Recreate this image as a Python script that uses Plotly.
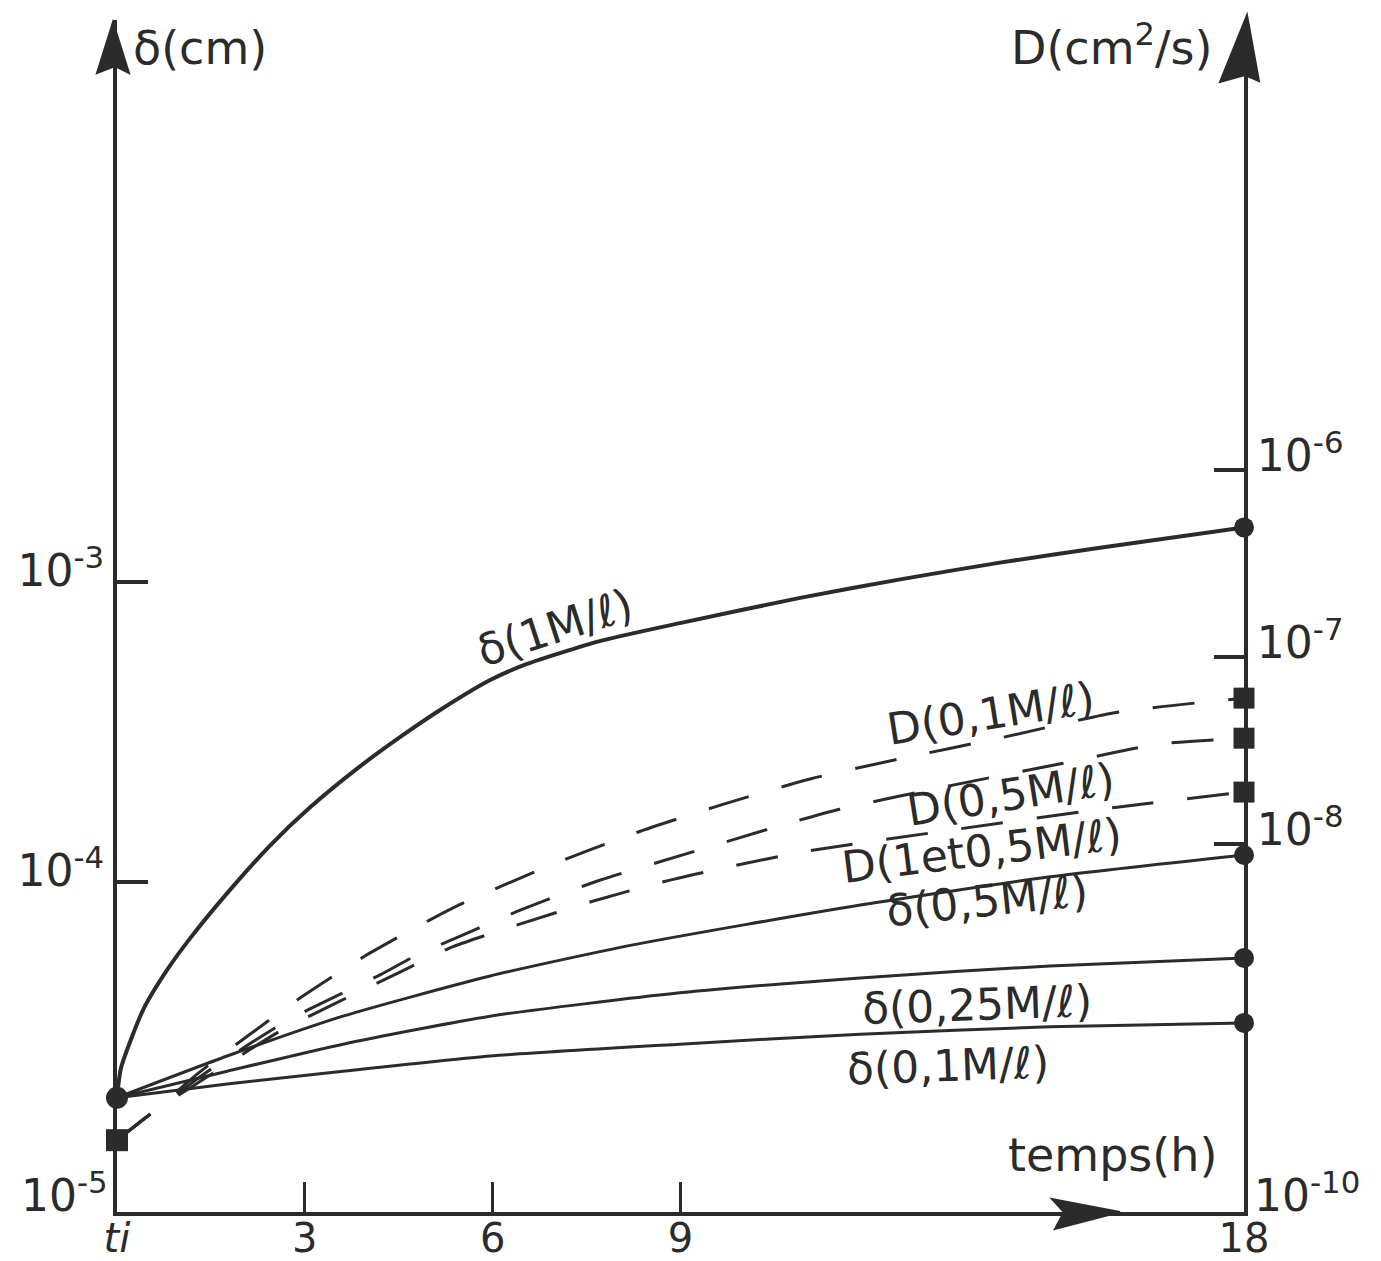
import plotly.graph_objects as go

# ---------------- data (time in hours) ----------------
t_d1M = [0, 0.064, 0.415, 0.80, 1.17, 1.76, 2.44, 3.08, 3.85, 4.57, 5.21, 5.96, 6.55,
         7.71, 8.99, 10.91, 12.51, 14.1, 15.7, 18]
d_1M = [1.91e-5, 2.40e-5, 3.74e-5, 5.09e-5, 6.50e-5, 9.18e-5, 1.32e-4, 1.77e-4, 2.40e-4,
        3.09e-4, 3.80e-4, 4.71e-4, 5.33e-4, 6.35e-4, 7.29e-4, 8.85e-4, 1.02e-3, 1.16e-3,
        1.30e-3, 1.52e-3]

t_d05M = [0, 1.76, 3.61, 5.96, 8.24, 11.87, 14.9, 18]
d_05M = [1.91e-5, 2.63e-5, 3.57e-5, 4.86e-5, 6.17e-5, 8.38e-5, 1.04e-4, 1.23e-4]

t_dlow = [0, 1.76, 3.61, 5.96, 8.99, 11.87, 14.9, 18]
d_025M = [1.91e-5, 2.34e-5, 2.88e-5, 3.57e-5, 4.27e-5, 4.79e-5, 5.25e-5, 5.58e-5]
d_01M = [1.91e-5, 2.12e-5, 2.34e-5, 2.63e-5, 2.88e-5, 3.11e-5, 3.29e-5, 3.39e-5]

t_D01M = [0, 0.57, 1.32, 2.19, 2.94, 3.96, 5.36, 6.93, 8.27, 9.69, 11.07, 12.49, 14.09, 16.0, 18]
D_01M = [2.60e-10, 3.67e-10, 6.01e-10, 9.95e-10, 1.51e-9, 2.51e-9, 4.53e-9, 7.69e-9,
         1.14e-8, 1.63e-8, 2.22e-8, 2.84e-8, 3.67e-8, 5.06e-8, 6.01e-8]

t_D05M = [0, 0.57, 1.48, 2.71, 3.46, 4.2, 4.79, 5.63, 6.45, 7.72, 9.3, 10.52, 11.54, 13.29, 15.05, 16.64, 18]
D_05M = [2.60e-10, 3.67e-10, 6.17e-10, 1.13e-9, 1.51e-9, 1.99e-9, 2.54e-9, 3.37e-9, 4.43e-9,
         6.40e-9, 9.27e-9, 1.23e-8, 1.53e-8, 2.04e-8, 2.67e-8, 3.41e-8, 3.67e-8]

t_D1et05M = [0, 0.57, 1.48, 2.6, 3.56, 4.52, 5.31, 6.38, 7.61, 8.71, 9.77, 10.95, 13.29, 15.97, 18]
D_1et05M = [2.60e-10, 3.67e-10, 5.78e-10, 9.95e-10, 1.44e-9, 2.06e-9, 2.77e-9, 3.67e-9, 4.94e-9,
            6.24e-9, 7.52e-9, 9.04e-9, 1.18e-8, 1.57e-8, 1.89e-8]

x_tickvals = [0, 3, 6, 9, 18]
x_ticktext = ["<i>ti</i>", "3", "6", "9", "18"]
yl_tickvals = [1e-3, 1e-4]
yl_ticktext = ["10<sup>-3</sup>", "10<sup>-4</sup>"]
yr_tickvals = [1e-6, 1e-7, 1e-8]
yr_ticktext = ["10<sup>-6</sup>", "10<sup>-7</sup>", "10<sup>-8</sup>"]

# ---------------- styling ----------------
INK = "#2b2b2b"
FONT = "DejaVu Sans"
W, H = 1381, 1261
PL, PR, PT, PB = 117, 1244, 20, 1212


def px(x):
    return (x - PL) / (PR - PL)


def py(y):
    return (PB - y) / (PB - PT)


fig = go.Figure()

delta_series = [(t_d1M, d_1M, 4), (t_d05M, d_05M, 3), (t_dlow, d_025M, 3), (t_dlow, d_01M, 3)]
for tx, vy, lw in delta_series:
    fig.add_trace(go.Scatter(x=tx, y=vy, mode="lines", yaxis="y",
                             line=dict(color=INK, width=lw, shape="spline", smoothing=0.6),
                             cliponaxis=False, hoverinfo="skip"))
    fig.add_trace(go.Scatter(x=[tx[-1]], y=[vy[-1]], mode="markers", yaxis="y",
                             marker=dict(symbol="circle", size=20, color=INK),
                             cliponaxis=False, hoverinfo="skip"))
fig.add_trace(go.Scatter(x=[t_d1M[0]], y=[d_1M[0]], mode="markers", yaxis="y",
                         marker=dict(symbol="circle", size=22, color=INK),
                         cliponaxis=False, hoverinfo="skip"))

D_series = [(t_D01M, D_01M), (t_D05M, D_05M), (t_D1et05M, D_1et05M)]
for tx, vy in D_series:
    fig.add_trace(go.Scatter(x=tx, y=vy, mode="lines", yaxis="y2",
                             line=dict(color=INK, width=3, shape="spline", smoothing=0.6,
                                       dash="42px,34px"),
                             cliponaxis=False, hoverinfo="skip"))
    fig.add_trace(go.Scatter(x=[tx[-1]], y=[vy[-1]], mode="markers", yaxis="y2",
                             marker=dict(symbol="square", size=21, color=INK),
                             cliponaxis=False, hoverinfo="skip"))
fig.add_trace(go.Scatter(x=[t_D01M[0]], y=[D_01M[0]], mode="markers", yaxis="y2",
                         marker=dict(symbol="square", size=22, color=INK),
                         cliponaxis=False, hoverinfo="skip"))

# ---------------- annotations (text) ----------------
def txt(s, x, y, size=44, angle=0, xanchor="center", yanchor="middle"):
    fig.add_annotation(text=s, x=px(x), y=py(y), xref="paper", yref="paper",
                       showarrow=False, textangle=angle, xanchor=xanchor, yanchor=yanchor,
                       font=dict(family=FONT, size=size, color=INK))


txt("δ(cm)", 131, 48, size=46, xanchor="left")
txt("D(cm<sup>2</sup>/s)", 1214, 45, size=46, xanchor="right")
txt("temps(h)", 1112, 1155, size=46)
txt("10<sup>-5</sup>", 110, 1192, size=44, xanchor="right")
txt("10<sup>-10</sup>", 1252, 1192, size=44, xanchor="left")

txt("δ(1M/ℓ)", 555, 628, angle=-18)
txt("D(0,1M/ℓ)", 990, 713, angle=-9)
txt("D(0,5M/ℓ)", 1010, 794, angle=-9)
txt("D(1et0,5M/ℓ)", 981, 850, angle=-7)
txt("δ(0,5M/ℓ)", 987, 901, angle=-6)
txt("δ(0,25M/ℓ)", 977, 1004, angle=-2)
txt("δ(0,1M/ℓ)", 948, 1065, angle=-2)

# ---------------- arrowheads (decoration) ----------------
def path(points):
    return "M " + " L ".join(f"{px(a):.5f},{py(b):.5f}" for a, b in points) + " Z"


arrow_shapes = [
    [(113, 22), (129, 73), (115, 66), (97, 73)],
    [(1247, 15), (1259, 81), (1245, 75), (1220, 82)],
    [(1120, 1212), (1055, 1229), (1064, 1212), (1052, 1199)],
]
for pts in arrow_shapes:
    fig.add_shape(type="path", path=path(pts), xref="paper", yref="paper",
                  fillcolor=INK, line=dict(color=INK, width=2), layer="above")

axis_common = dict(showline=True, linewidth=4, linecolor=INK, showgrid=False, zeroline=False,
                   automargin=False, tickcolor=INK)

fig.update_layout(
    width=W, height=H,
    margin=dict(l=PL, r=W - PR, t=PT, b=H - PB, autoexpand=False),
    paper_bgcolor="white", plot_bgcolor="white",
    showlegend=False,
    font=dict(family=FONT, color=INK, size=44),
    xaxis=dict(range=[0, 18], tickmode="array", tickvals=x_tickvals, ticktext=x_ticktext,
               ticks="inside", ticklen=30, tickwidth=3, ticklabelstandoff=-12,
               tickfont=dict(family=FONT, size=40, color=INK), **axis_common),
    yaxis=dict(type="log", range=[-5.1, -1.127], tickmode="array",
               tickvals=yl_tickvals, ticktext=yl_ticktext,
               ticks="inside", ticklen=31, tickwidth=4, ticklabelshift=-11,
               tickfont=dict(family=FONT, size=44, color=INK), **axis_common),
    yaxis2=dict(type="log", range=[-9.969, -3.595], overlaying="y", side="right",
                tickmode="array", tickvals=yr_tickvals, ticktext=yr_ticktext,
                ticks="inside", ticklen=30, tickwidth=4, ticklabelshift=-14,
                tickfont=dict(family=FONT, size=44, color=INK), **axis_common),
)

fig.write_html("out.html", config={"displayModeBar": False},
               post_script="document.body.style.margin='0';document.body.style.overflow='hidden';")
